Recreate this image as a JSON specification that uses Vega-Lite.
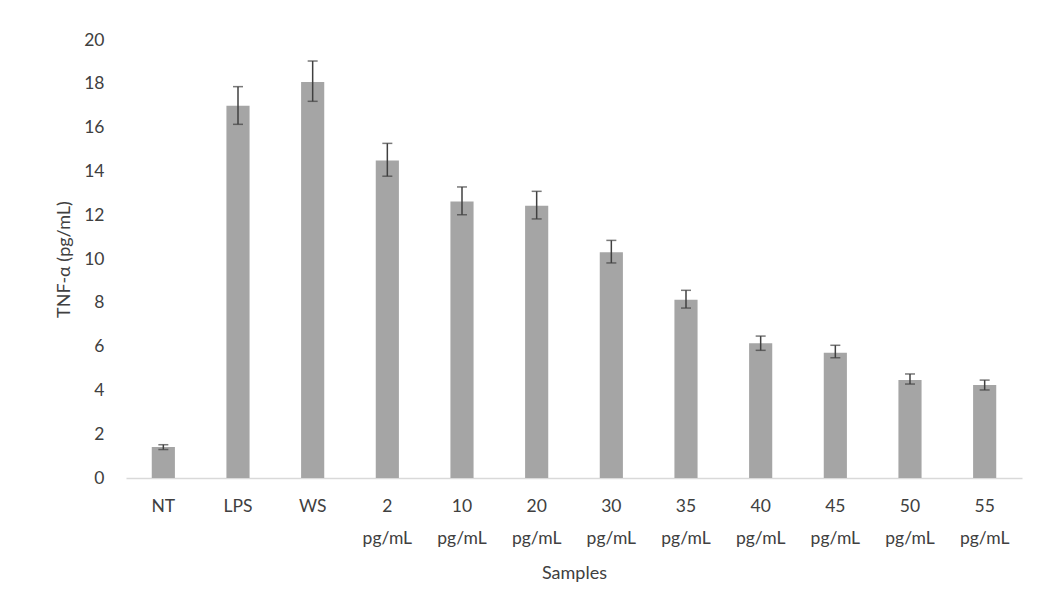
{
  "$schema": "https://vega.github.io/schema/vega-lite/v6.json",
  "width": 896,
  "height": 438,
  "autosize": {"type": "none"},
  "padding": {"left": 126, "top": 40, "right": 17, "bottom": 135},
  "background": "white",
  "config": {
    "view": {"stroke": null},
    "font": "Lato",
    "axis": {"labelFont": "Lato", "titleFont": "Lato", "labelColor": "#404040", "titleColor": "#404040", "labelFontSize": 17.5, "titleFontSize": 18, "titleFontWeight": "normal"}
  },
  "data": {
    "values": [
      {"sample": "NT", "mean": 1.41, "lo": 1.3, "hi": 1.52},
      {"sample": "LPS", "mean": 17.0, "lo": 16.15, "hi": 17.87},
      {"sample": "WS", "mean": 18.08, "lo": 17.2, "hi": 19.04},
      {"sample": "2 pg/mL", "mean": 14.5, "lo": 13.78, "hi": 15.28},
      {"sample": "10 pg/mL", "mean": 12.62, "lo": 12.02, "hi": 13.29},
      {"sample": "20 pg/mL", "mean": 12.43, "lo": 11.83, "hi": 13.09},
      {"sample": "30 pg/mL", "mean": 10.31, "lo": 9.82, "hi": 10.85},
      {"sample": "35 pg/mL", "mean": 8.14, "lo": 7.76, "hi": 8.57},
      {"sample": "40 pg/mL", "mean": 6.15, "lo": 5.83, "hi": 6.48},
      {"sample": "45 pg/mL", "mean": 5.72, "lo": 5.49, "hi": 6.06},
      {"sample": "50 pg/mL", "mean": 4.47, "lo": 4.29, "hi": 4.75},
      {"sample": "55 pg/mL", "mean": 4.25, "lo": 4.02, "hi": 4.47}
    ]
  },
  "encoding": {
    "x": {
      "field": "sample", "type": "nominal", "sort": null,
      "scale": {"paddingInner": 0.69, "paddingOuter": 0.345},
      "axis": {
        "title": "Samples", "labelAngle": 0, "ticks": false,
        "domainColor": "#d9d9d9", "domainWidth": 1.5,
        "labelPadding": 19, "labelLineHeight": 32,
        "labelExpr": "split(datum.value, ' ')",
        "titlePadding": 18
      }
    }
  },
  "layer": [
    {
      "mark": {"type": "bar", "color": "#a5a5a5"},
      "encoding": {
        "y": {
          "field": "mean", "type": "quantitative",
          "scale": {"domain": [0, 20]},
          "axis": {"title": "TNF-α (pg/mL)", "values": [0,2,4,6,8,10,12,14,16,18,20], "grid": false, "domain": false, "ticks": false, "labelPadding": 22, "titlePadding": 10}
        }
      }
    },
    {
      "mark": {"type": "rule", "color": "#404040", "strokeWidth": 1.5},
      "encoding": {
        "y": {"field": "lo", "type": "quantitative"},
        "y2": {"field": "hi"}
      }
    },
    {
      "mark": {"type": "tick", "color": "#404040", "size": 10, "thickness": 1.5},
      "encoding": {"y": {"field": "lo", "type": "quantitative"}}
    },
    {
      "mark": {"type": "tick", "color": "#404040", "size": 10, "thickness": 1.5},
      "encoding": {"y": {"field": "hi", "type": "quantitative"}}
    }
  ]
}
